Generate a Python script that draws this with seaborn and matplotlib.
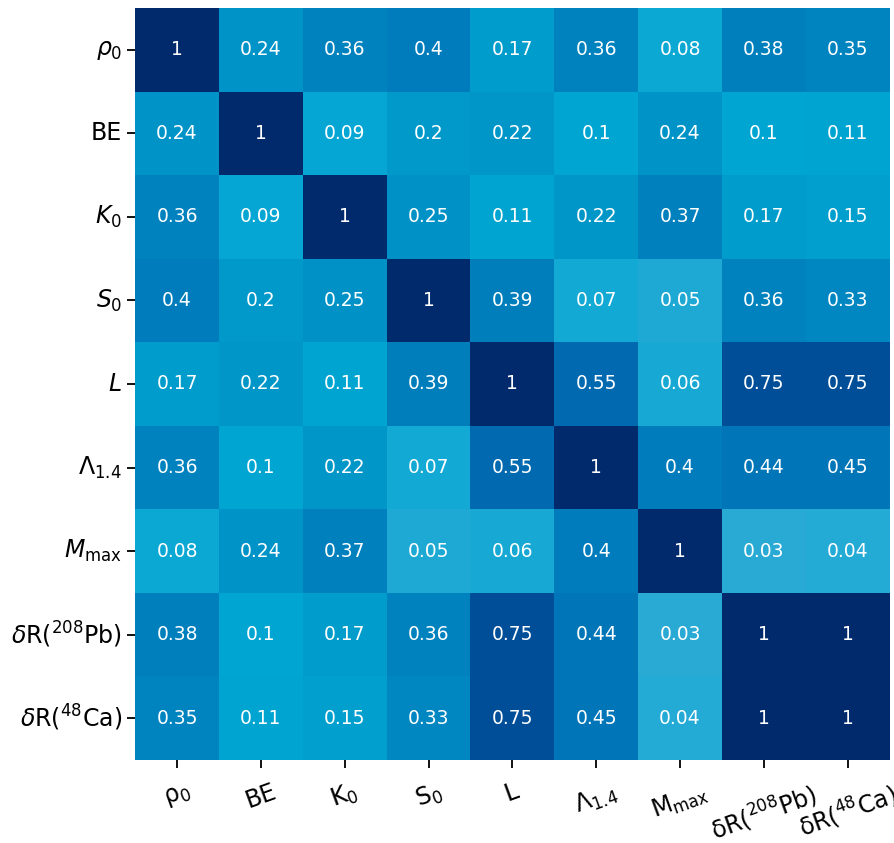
import numpy as np
import seaborn as sns
import matplotlib.pyplot as plt
from matplotlib.colors import LinearSegmentedColormap

# parameter names (rows / columns of the correlation matrix)
y_labels = [r'$\rho_0$', 'BE', r'$K_0$', r'$S_0$', r'$L$', r'$\Lambda_{1.4}$',
            r'$M_{\rm max}$', r'$\delta$R($^{208}$Pb)', r'$\delta$R($^{48}$Ca)']
x_labels = [r'$\mathrm{\rho_0}$', 'BE', r'$\mathrm{K_0}$', r'$\mathrm{S_0}$', r'$\mathrm{L}$',
            r'$\mathrm{\Lambda_{1.4}}$', r'$\mathrm{M_{max}}$',
            r'$\mathrm{\delta R(^{208}Pb)}$', r'$\mathrm{\delta R(^{48}Ca)}$']

# absolute correlation coefficients
row_rho0 = [1, 0.24, 0.36, 0.40, 0.17, 0.36, 0.08, 0.38, 0.35]
row_be = [0.24, 1, 0.09, 0.20, 0.22, 0.10, 0.24, 0.10, 0.11]
row_k0 = [0.36, 0.09, 1, 0.25, 0.11, 0.22, 0.37, 0.17, 0.15]
row_s0 = [0.40, 0.20, 0.25, 1, 0.39, 0.07, 0.05, 0.36, 0.33]
row_l = [0.17, 0.22, 0.11, 0.39, 1, 0.55, 0.06, 0.75, 0.75]
row_lam = [0.36, 0.10, 0.22, 0.07, 0.55, 1, 0.40, 0.44, 0.45]
row_mmax = [0.08, 0.24, 0.37, 0.05, 0.06, 0.40, 1, 0.03, 0.04]
row_pb = [0.38, 0.10, 0.17, 0.36, 0.75, 0.44, 0.03, 1, 1]
row_ca = [0.35, 0.11, 0.15, 0.33, 0.75, 0.45, 0.04, 1, 1]

corr = np.array([row_rho0, row_be, row_k0, row_s0, row_l, row_lam, row_mmax, row_pb, row_ca])

# light cyan -> navy
cmap = LinearSegmentedColormap.from_list('cyan_navy', [
    (0.00, '#2eabd6'),
    (0.03, '#29aad5'),
    (0.08, '#0aa8d4'),
    (0.10, '#00a5d2'),
    (0.22, '#0096c8'),
    (0.36, '#0082be'),
    (0.44, '#0076b9'),
    (0.55, '#0069b0'),
    (0.75, '#004e98'),
    (1.00, '#002a6c'),
])

fig = plt.figure(figsize=(8.95, 8.43), dpi=100)
ax = fig.add_axes([0.151, 0.0985, 0.843, 0.892])
sns.heatmap(corr, annot=True, cmap=cmap, vmin=0, vmax=1, cbar=False,
            annot_kws={'fontsize': 13.5, 'color': 'white'}, ax=ax)

ax.set_xticklabels(x_labels, rotation=20, fontsize=17)
ax.set_yticklabels(y_labels, rotation=0, fontsize=17)
ax.tick_params(length=6, width=1.3)
ax.tick_params(axis='x', pad=8)

fig.savefig('out.png', dpi=100)
